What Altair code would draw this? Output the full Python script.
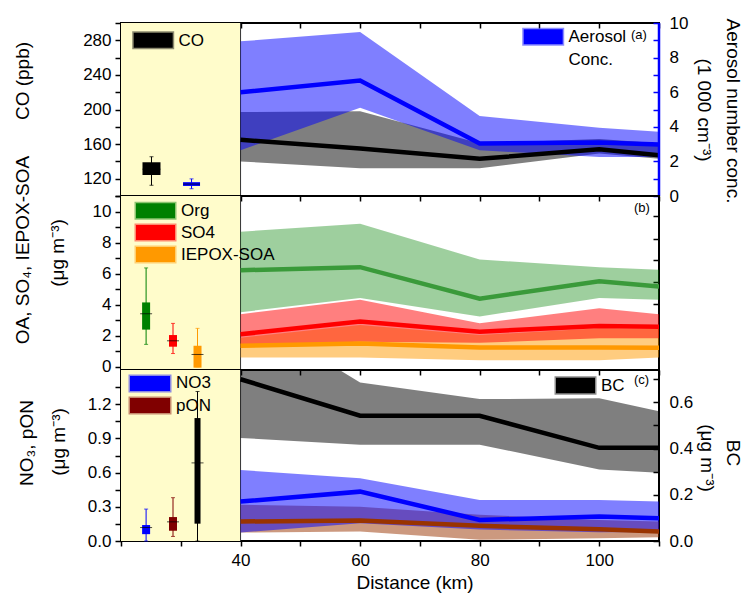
import altair as alt
import pandas as pd

FONT = "Liberation Sans"

# ---------------- data ----------------
dist = [40, 60, 80, 100, 110]

# panel (a): CO (left axis) and aerosol number concentration (right axis)
co_mean = [165, 155, 143, 154, 147]
co_lo = [140, 132, 132, 149, 143]
co_hi = [197, 198, 161, 166, 161]
aer_mean = [6.0, 6.67, 3.04, 3.09, 2.98]
aer_lo = [2.65, 5.1, 2.65, 2.25, 2.25]
aer_hi = [8.94, 9.48, 4.63, 3.95, 3.71]

# panel (b): Org, SO4, IEPOX-SOA
org_mean = [6.22, 6.42, 4.39, 5.51, 5.18]
org_lo = [3.52, 4.43, 3.24, 4.43, 4.32]
org_hi = [8.7, 9.22, 6.91, 6.42, 6.26]
so4_mean = [2.1, 2.92, 2.27, 2.64, 2.59]
so4_lo = [1.4, 1.62, 1.55, 1.84, 1.84]
so4_hi = [3.39, 4.32, 2.81, 3.78, 3.39]
iep_mean = [1.36, 1.51, 1.25, 1.25, 1.23]
iep_lo = [0.6, 0.6, 0.43, 0.43, 0.6]
iep_hi = [1.88, 2.7, 2.05, 2.48, 2.45]

# panel (c): NO3, pON (left axis), BC (right axis)
no3_mean = [0.346, 0.433, 0.185, 0.214, 0.20]
no3_lo = [0.074, 0.156, 0.10, 0.077, 0.08]
no3_hi = [0.623, 0.55, 0.36, 0.36, 0.346]
pon_mean = [0.171, 0.18, 0.133, 0.103, 0.083]
pon_lo = [0.074, 0.083, 0.01, 0.025, 0.033]
pon_hi = [0.317, 0.30, 0.23, 0.185, 0.17]
bc_mean = [0.70, 0.542, 0.542, 0.403, 0.403]
bc_lo = [0.446, 0.417, 0.417, 0.309, 0.295]
bc_hi = [1.0, 0.686, 0.614, 0.618, 0.561]

# box summaries in the left column: position, whisker low, Q1, median, Q3, whisker high
box_keys = ["pos", "wlo", "q1", "med", "q3", "whi"]
box_co = [25.1, 112.4, 124.3, 131.0, 139.0, 145.4]
box_aer = [31.8, 0.42, 0.58, 0.69, 0.80, 0.99]
box_org = [24.2, 1.45, 2.40, 3.42, 4.15, 6.37]
box_so4 = [28.7, 0.86, 1.30, 1.68, 2.05, 2.80]
box_iep = [32.8, 0.0, -0.05, 0.80, 1.36, 2.48]
box_no3 = [24.2, 0.0, 0.06, 0.118, 0.14, 0.28]
box_pon = [28.7, 0.04, 0.09, 0.168, 0.21, 0.38]
box_bc = [32.8, 0.0, 0.075, 0.338, 0.532, 0.647]

x_domain = [20, 110]
left_region = [20, 40]
x_ticks = list(range(20, 111, 10))
co_domain = [100, 300]
aer_domain = [0, 10]
b_domain = [-0.2, 11]
no3_domain = [0, 1.5]
bc_domain = [0, 0.74]

co_ticks = list(range(100, 301, 20))
aer_ticks = list(range(0, 11))
b_ticks = list(range(0, 12))
b_right_ticks = [1.29, 2.64, 4.04, 5.49, 6.87, 8.22, 9.72]
no3_ticks = [round(i * 0.15, 2) for i in range(10)]
bc_ticks = [round(i * 0.1, 1) for i in range(8)]

# ---------------- layout ----------------
W = 538
HA, HB, HC = 173, 174, 171
LINE_W = 4.5

one = pd.DataFrame({"k": [0]})


def X(field, axis=None):
    return alt.X(f"{field}:Q", scale=alt.Scale(domain=x_domain, nice=False, zero=False, padding=0),
                 axis=axis)


def Y(field, dom, axis=None):
    return alt.Y(f"{field}:Q", scale=alt.Scale(domain=dom, nice=False, zero=False, padding=0),
                 axis=axis)


def xaxis(labels=False, orient="bottom", offset=0):
    kw = dict(orient=orient, values=x_ticks, tickSize=5, tickWidth=1.5, labels=labels,
              domain=False, grid=False, title=None, offset=offset, labelFlush=False,
              labelOverlap=False, labelPadding=6, labelFontSize=17)
    if labels:
        kw["labelExpr"] = "datum.value >= 40 && datum.value <= 100 && datum.value % 20 == 0 ? datum.label : ''"
    return alt.Axis(**kw)


def left_axis(values, expr):
    return alt.Axis(orient="left", values=values, labelExpr=expr, tickSize=6, tickWidth=1.5,
                    labelPadding=4, domain=False, grid=False, title=None,
                    labelFlush=False, labelOverlap=False)


def right_axis(values, expr=None, color="black", labels=True):
    kw = dict(orient="right", values=values, tickSize=6, tickWidth=1.5, offset=-6, labelPadding=10,
              domain=False, grid=False, title=None, tickColor=color, labels=labels,
              labelFlush=False, labelOverlap=False)
    if expr:
        kw["labelExpr"] = expr
    return alt.Axis(**kw)


def yellow(h):
    df = pd.DataFrame({"x0": [left_region[0]], "x1": [left_region[1]]})
    return alt.Chart(df).mark_rect(color="#FFFCCB").encode(
        x=X("x0"), x2="x1:Q", y=alt.value(0), y2=alt.value(h))


def separator():
    df = pd.DataFrame({"x1": [left_region[1]]})
    return alt.Chart(df).mark_rule(color="#333333", strokeWidth=1).encode(x=X("x1"))


def band(df, lo, hi, color, dom, axis=None, opacity=0.5, clip=False, xax=None):
    return alt.Chart(df).mark_area(color=color, opacity=opacity, clip=clip).encode(
        x=X("d", xax), y=Y(lo, dom, axis), y2=f"{hi}:Q")


def line(df, field, color, dom, axis=None, xax=None):
    return alt.Chart(df).mark_line(color=color, strokeWidth=LINE_W, clip=True).encode(
        x=X("d", xax), y=Y(field, dom, axis))


def box_layers(vals, dom, color, width, medw=12, capw=4):
    df = pd.DataFrame([dict(zip(box_keys, vals))])
    base = alt.Chart(df)
    x = X("pos")
    return [
        base.mark_rule(color=color, strokeWidth=1).encode(x=x, y=Y("wlo", dom), y2="whi:Q"),
        base.mark_tick(color=color, orient="horizontal", size=capw, thickness=1).encode(x=x, y=Y("wlo", dom)),
        base.mark_tick(color=color, orient="horizontal", size=capw, thickness=1).encode(x=x, y=Y("whi", dom)),
        base.mark_bar(color=color, size=width).encode(x=x, y=Y("q1", dom), y2="q3:Q"),
        base.mark_tick(color="black", orient="horizontal", size=medw, thickness=1).encode(x=x, y=Y("med", dom)),
    ]


def swatch(x0, x1, y0, y1, color):
    return alt.Chart(one).mark_rect(color=color, stroke=color, strokeOpacity=0.45, strokeWidth=3).encode(
        x=alt.value(x0), x2=alt.value(x1), y=alt.value(y0), y2=alt.value(y1))


def label(txt, x, y, size=17, angle=0, align="left"):
    return alt.Chart(one).mark_text(text=txt, fontSize=size, angle=angle, align=align,
                                    baseline="middle", font=FONT, color="black").encode(
        x=alt.value(x), y=alt.value(y))


def panel(layers, h):
    return (alt.layer(*layers)
            .resolve_scale(x="independent", y="independent")
            .properties(width=W, height=h))


# ---------------- panel (a) ----------------
dfa = pd.DataFrame({"d": dist, "co_mean": co_mean, "co_lo": co_lo, "co_hi": co_hi,
                    "aer_mean": aer_mean, "aer_lo": aer_lo, "aer_hi": aer_hi})

anchor = alt.Chart(one).mark_rule(opacity=0, strokeWidth=0).encode(
    x=alt.value(-112), x2=alt.value(-112), y=alt.value(-14), y2=alt.value(-14))

layers_a = [
    yellow(HA),
    separator(),
    band(dfa, "co_lo", "co_hi", "black", co_domain,
         left_axis(co_ticks, "datum.value % 40 == 0 && datum.value > 100 ? datum.label : ''"),
         xax=xaxis(False)),
    band(dfa, "aer_lo", "aer_hi", "blue", aer_domain,
         right_axis(aer_ticks, "datum.value % 2 == 0 ? datum.label : ''", color="blue")),
    line(dfa, "co_mean", "black", co_domain, xax=xaxis(False, orient="top", offset=-5)),
    line(dfa, "aer_mean", "blue", aer_domain),
]
layers_a += box_layers(box_co, co_domain, "black", 18, medw=18)
layers_a += box_layers(box_aer, aer_domain, "blue", 17, medw=17)
layers_a += [
    swatch(12.7, 51.7, 9.7, 24.7, "black"),
    label("CO", 57.5, 17.5),
    swatch(402.7, 441.7, 6.3, 21.3, "blue"),
    label("Aerosol", 447.5, 14),
    label("Conc.", 447.5, 37),
    label("(a)", 510, 11.5, size=13),
    label("CO (ppb)", -98, 58, size=19, angle=270, align="center"),
    label("Aerosol number conc.", 612, 88, size=19, angle=90, align="center"),
    label("(1 000 cm\u207b\u00b3)", 583, 87, size=19, angle=90, align="center"),
    alt.Chart(one).mark_rule(color="blue", strokeWidth=2.5).encode(
        x=alt.value(W), y=alt.value(0), y2=alt.value(HA)),
    anchor,
]
panel_a = panel(layers_a, HA)

# ---------------- panel (b) ----------------
dfb = pd.DataFrame({"d": dist, "org_mean": org_mean, "org_lo": org_lo, "org_hi": org_hi,
                    "so4_mean": so4_mean, "so4_lo": so4_lo, "so4_hi": so4_hi,
                    "iep_mean": iep_mean, "iep_lo": iep_lo, "iep_hi": iep_hi})
GREEN_BAND, GREEN_LINE = "#008000", "#3A9A3A"
RED = "#FF0000"
ORANGE = "#FF9900"

layers_b = [
    yellow(HB),
    separator(),
    band(dfb, "org_lo", "org_hi", GREEN_BAND, b_domain,
         left_axis(b_ticks, "datum.value % 2 == 0 ? datum.label : ''"), opacity=0.38,
         xax=xaxis(False)),
    band(dfb, "iep_lo", "iep_hi", ORANGE, b_domain),
    band(dfb, "so4_lo", "so4_hi", RED, b_domain),
    line(dfb, "iep_mean", ORANGE, b_domain, right_axis(b_right_ticks, labels=False)),
    line(dfb, "so4_mean", RED, b_domain),
    line(dfb, "org_mean", GREEN_LINE, b_domain),
]
layers_b += box_layers(box_org, b_domain, GREEN_BAND, 8)
layers_b += box_layers(box_so4, b_domain, RED, 8)
layers_b += box_layers(box_iep, b_domain, ORANGE, 8)
layers_b += [
    swatch(15, 54, 7.3, 22.3, GREEN_BAND),
    swatch(15, 54, 29, 44, RED),
    swatch(15, 54, 51, 66, ORANGE),
    label("Org", 60, 15),
    label("SO4", 60, 36.7),
    label("IEPOX-SOA", 60, 58.5),
    label("(b)", 513, 12, size=13),
    label("OA, SO\u2084, IEPOX-SOA", -98, 54, size=19, angle=270, align="center"),
    label("(\u03bcg m\u207b\u00b3)", -63, 57, size=19, angle=270, align="center"),
]
panel_b = panel(layers_b, HB)

# ---------------- panel (c) ----------------
dfc = pd.DataFrame({"d": dist, "no3_mean": no3_mean, "no3_lo": no3_lo, "no3_hi": no3_hi,
                    "pon_mean": pon_mean, "pon_lo": pon_lo, "pon_hi": pon_hi,
                    "bc_mean": bc_mean, "bc_lo": bc_lo, "bc_hi": bc_hi})
BROWN = "#993300"

layers_c = [
    yellow(HC),
    separator(),
    band(dfc, "bc_lo", "bc_hi", "black", bc_domain,
         right_axis(bc_ticks, "round(datum.value * 10) % 2 == 0 ? format(datum.value, '.1f') : ''"),
         clip=True, xax=xaxis(True)),
    band(dfc, "pon_lo", "pon_hi", BROWN, no3_domain,
         left_axis(no3_ticks, "round(datum.value * 100) % 30 == 0 ? format(datum.value, '.1f') : ''")),
    band(dfc, "no3_lo", "no3_hi", "blue", no3_domain),
    line(dfc, "bc_mean", "black", bc_domain),
    line(dfc, "pon_mean", BROWN, no3_domain),
    line(dfc, "no3_mean", "blue", no3_domain),
]
layers_c += box_layers(box_no3, no3_domain, "blue", 8)
layers_c += box_layers(box_pon, no3_domain, "#800000", 8)
layers_c += box_layers(box_bc, bc_domain, "black", 6)
layers_c += [
    swatch(9, 49, 6, 21, "blue"),
    swatch(9, 49, 28, 43, "#800000"),
    label("NO3", 55, 13.3),
    label("pON", 55, 36),
    swatch(435, 474, 7.7, 23.3, "black"),
    label("BC", 480, 16),
    label("(c)", 513, 10, size=13),
    label("NO\u2083, pON", -94, 73, size=19, angle=270, align="center"),
    label("(\u03bcg m\u207b\u00b3)", -62, 72, size=19, angle=270, align="center"),
    label("BC", 612, 83, size=19, angle=90, align="center"),
    label("(\u03bcg m\u207b\u00b3)", 586, 88, size=19, angle=90, align="center"),
    label("Distance (km)", 294, 213, size=19, align="center"),
]
panel_c = panel(layers_c, HC)

chart = (
    alt.vconcat(panel_a, panel_b, panel_c, spacing=0, bounds="flush")
    .properties(padding={"left": 0, "top": 0, "right": 0, "bottom": 0})
    .configure(font=FONT)
    .configure_view(stroke="black", strokeWidth=2)
    .configure_axis(labelFont=FONT, labelFontSize=17, labelColor="black", tickColor="black",
                    domain=False, grid=False)
)

chart.save("out.html", embed_options={"renderer": "svg", "actions": False})
